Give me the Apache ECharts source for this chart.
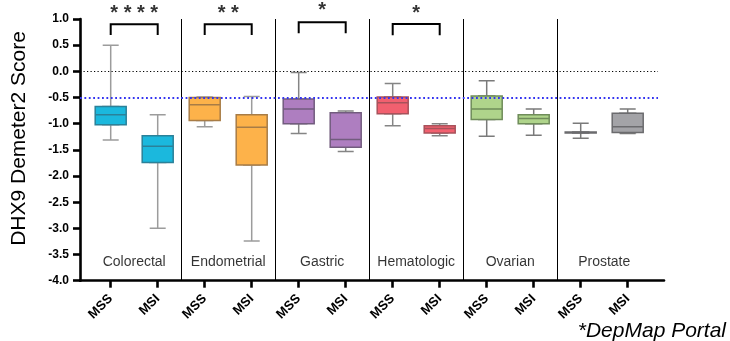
<!DOCTYPE html>
<html>
<head>
<meta charset="utf-8">
<script src="https://cdn.jsdelivr.net/npm/echarts@6/dist/echarts.min.js"></script>
<style>
html,body{margin:0;padding:0;background:#fff;}
#chart{width:730px;height:341px;}
</style>
</head>
<body>
<div id="chart"></div>
<script>
// ---- data ----
const categories = ['MSS','MSI','MSS','MSI','MSS','MSI','MSS','MSI','MSS','MSI','MSS','MSI'];
const groups = ['Colorectal','Endometrial','Gastric','Hematologic','Ovarian','Prostate'];
const whiskerHigh = [0.50, -0.83, -0.49, -0.48, -0.02, -0.76, -0.23, -1.00, -0.18, -0.72, -0.99, -0.72];
const q3          = [-0.67, -1.23, -0.50, -0.83, -0.53, -0.79, -0.49, -1.04, -0.47, -0.83, -1.16, -0.80];
const medians     = [-0.83, -1.43, -0.64, -1.07, -0.72, -1.30, -0.60, -1.09, -0.72, -0.90, -1.17, -1.06];
const q1          = [-1.02, -1.74, -0.94, -1.79, -1.00, -1.45, -0.81, -1.18, -0.92, -1.00, -1.18, -1.17];
const whiskerLow  = [-1.31, -3.00, -1.06, -3.24, -1.19, -1.53, -1.04, -1.23, -1.24, -1.22, -1.28, -1.19];
const yTicks = {min: -4, max: 1, interval: 0.5};
// significance: group index, stars, bracket bottom/top, star level
const sigGroups   = [0, 1, 2, 3];
const sigStars    = ['* * * *', '* *', '*', '*'];
const bracketLow  = [0.694, 0.694, 0.727, 0.690];
const bracketHigh = [0.899, 0.899, 0.937, 0.905];
const starLevel   = [1.10, 1.10, 1.165, 1.10];
const refLines = [0, -0.5];
const groupLabelLevel = -3.643;

// ---- styles ----
const fills   = ['#1BB8DD','#FDB24A','#AE7EC0','#F2606F','#AFD48B','#A3A3A7'];
const borders = ['#2B8199','#A87C46','#725C7E','#A8525B','#6F8C5A','#6B6B6E'];
const whiskerColors = ['#9C9C9C','#9C9C9C','#858585','#858585','#7A7A7A','#7A7A7A'];
const FONT = "'Liberation Sans', Arial, sans-serif";

const chart = echarts.init(document.getElementById('chart'), null, {renderer:'canvas'});

const whiskerData = categories.map((c, i) => ({
  value: [whiskerLow[i], q1[i], medians[i], q3[i], whiskerHigh[i]],
  itemStyle: {color: fills[Math.floor(i/2)], borderColor: whiskerColors[Math.floor(i/2)], borderWidth: 1.5}
}));
const boxData = categories.map((c, i) => ({
  value: [q1[i], q1[i], medians[i], q3[i], q3[i]],
  itemStyle: {color: fills[Math.floor(i/2)], borderColor: borders[Math.floor(i/2)], borderWidth: 1.5}
}));

const bracketSeries = sigGroups.map((g, k) => ({
  type: 'line', xAxisIndex: 0, yAxisIndex: 0, symbol: 'none', clip: false, silent: true, z: 5,
  lineStyle: {color: '#000', width: 2, cap: 'butt', join: 'miter'},
  data: [[2*g, bracketLow[k]], [2*g, bracketHigh[k]], [2*g+1, bracketHigh[k]], [2*g+1, bracketLow[k]]]
}));

const starSeries = {
  type: 'scatter', xAxisIndex: 0, yAxisIndex: 0, symbolSize: 0, clip: false, silent: true, z: 6,
  data: sigGroups.map((g, k) => ({value: [2*g + 0.5, starLevel[k]], name: sigStars[k]})),
  label: {show: true, position: 'inside', formatter: p => p.name, color: '#000',
          fontSize: 20, fontWeight: 'bold', fontFamily: FONT}
};

const groupSeries = {
  type: 'scatter', xAxisIndex: 0, yAxisIndex: 0, symbolSize: 0, silent: true, z: 6,
  data: groups.map((g, i) => ({value: [2*i + 0.5, groupLabelLevel], name: g})),
  label: {show: true, position: 'inside', formatter: p => p.name, color: '#000',
          fontSize: 14, fontFamily: FONT},
  markLine: {
    silent: true, symbol: 'none', animation: false,
    label: {show: false},
    lineStyle: {color: '#000', width: 1, type: 'solid'},
    data: groups.slice(1).map((g, i) => ({xAxis: 2*(i+1) - 0.5})).concat([
      [{coord: [-0.653, refLines[0]], lineStyle: {color: '#000', width: 1.2, type: [1.2, 2.3]}},
       {coord: [11.645, refLines[0]]}],
      [{coord: [-0.653, refLines[1]], lineStyle: {color: '#3434F0', width: 1.8, type: [1.8, 2.6]}},
       {coord: [11.645, refLines[1]]}]
    ])
  }
};

const option = {
  animation: false,
  backgroundColor: '#fff',
  grid: [
    {left: 80, right: 66, top: 19, bottom: 60.3, containLabel: false},
    {left: 87.2, width: 564, top: 19, bottom: 60.3, containLabel: false}
  ],
  xAxis: [
    {gridIndex: 0, type: 'value', min: -0.6532, max: 11.7723,
     axisLine: {show: true, onZero: false, lineStyle: {color: '#000', width: 2.6}},
     axisTick: {show: false}, axisLabel: {show: false}, splitLine: {show: false}},
    {gridIndex: 1, type: 'category', data: categories, boundaryGap: true, position: 'bottom',
     axisLine: {show: false, onZero: false},
     axisTick: {show: true, alignWithLabel: true, length: 7, lineStyle: {color: '#000', width: 2.6}},
     axisLabel: {interval: 0, rotate: 45, margin: 16, color: '#000', fontSize: 13, fontWeight: 'bold', fontFamily: FONT},
     splitLine: {show: false}},
    {gridIndex: 1, type: 'category', data: categories, boundaryGap: true, show: false,
     axisLine: {onZero: false}}
  ],
  yAxis: [
    {gridIndex: 0, type: 'value', min: yTicks.min, max: yTicks.max, interval: yTicks.interval,
     axisLine: {show: true, onZero: false, lineStyle: {color: '#000', width: 2.6}},
     axisTick: {show: true, length: 7, lineStyle: {color: '#000', width: 2.6}},
     axisLabel: {margin: 11, color: '#000', fontSize: 12, fontWeight: 'bold', fontFamily: FONT,
                 formatter: v => v.toFixed(1)},
     splitLine: {show: false}},
    {gridIndex: 1, type: 'value', min: yTicks.min, max: yTicks.max, show: false,
     axisLine: {onZero: false}}
  ],
  series: [
    {type: 'boxplot', name: 'whiskers', xAxisIndex: 1, yAxisIndex: 1, boxWidth: [16, 16], z: 2,
     silent: true, data: whiskerData},
    {type: 'boxplot', name: 'boxes', xAxisIndex: 2, yAxisIndex: 1, boxWidth: [31, 31], z: 3,
     silent: true, data: boxData},
    groupSeries,
    starSeries
  ].concat(bracketSeries),
  graphic: [
    {type: 'text', x: 19, y: 138.5, rotation: Math.PI/2,
     style: {text: 'DHX9 Demeter2 Score', font: "21px 'Liberation Sans', Arial, sans-serif",
             fill: '#000', align: 'center', verticalAlign: 'middle'}},
    {type: 'text', x: 726, y: 331,
     style: {text: '*DepMap Portal', font: "italic 21px 'Liberation Sans', Arial, sans-serif",
             fill: '#000', align: 'right', verticalAlign: 'middle'}}
  ]
};
chart.setOption(option);
</script>
</body>
</html>
